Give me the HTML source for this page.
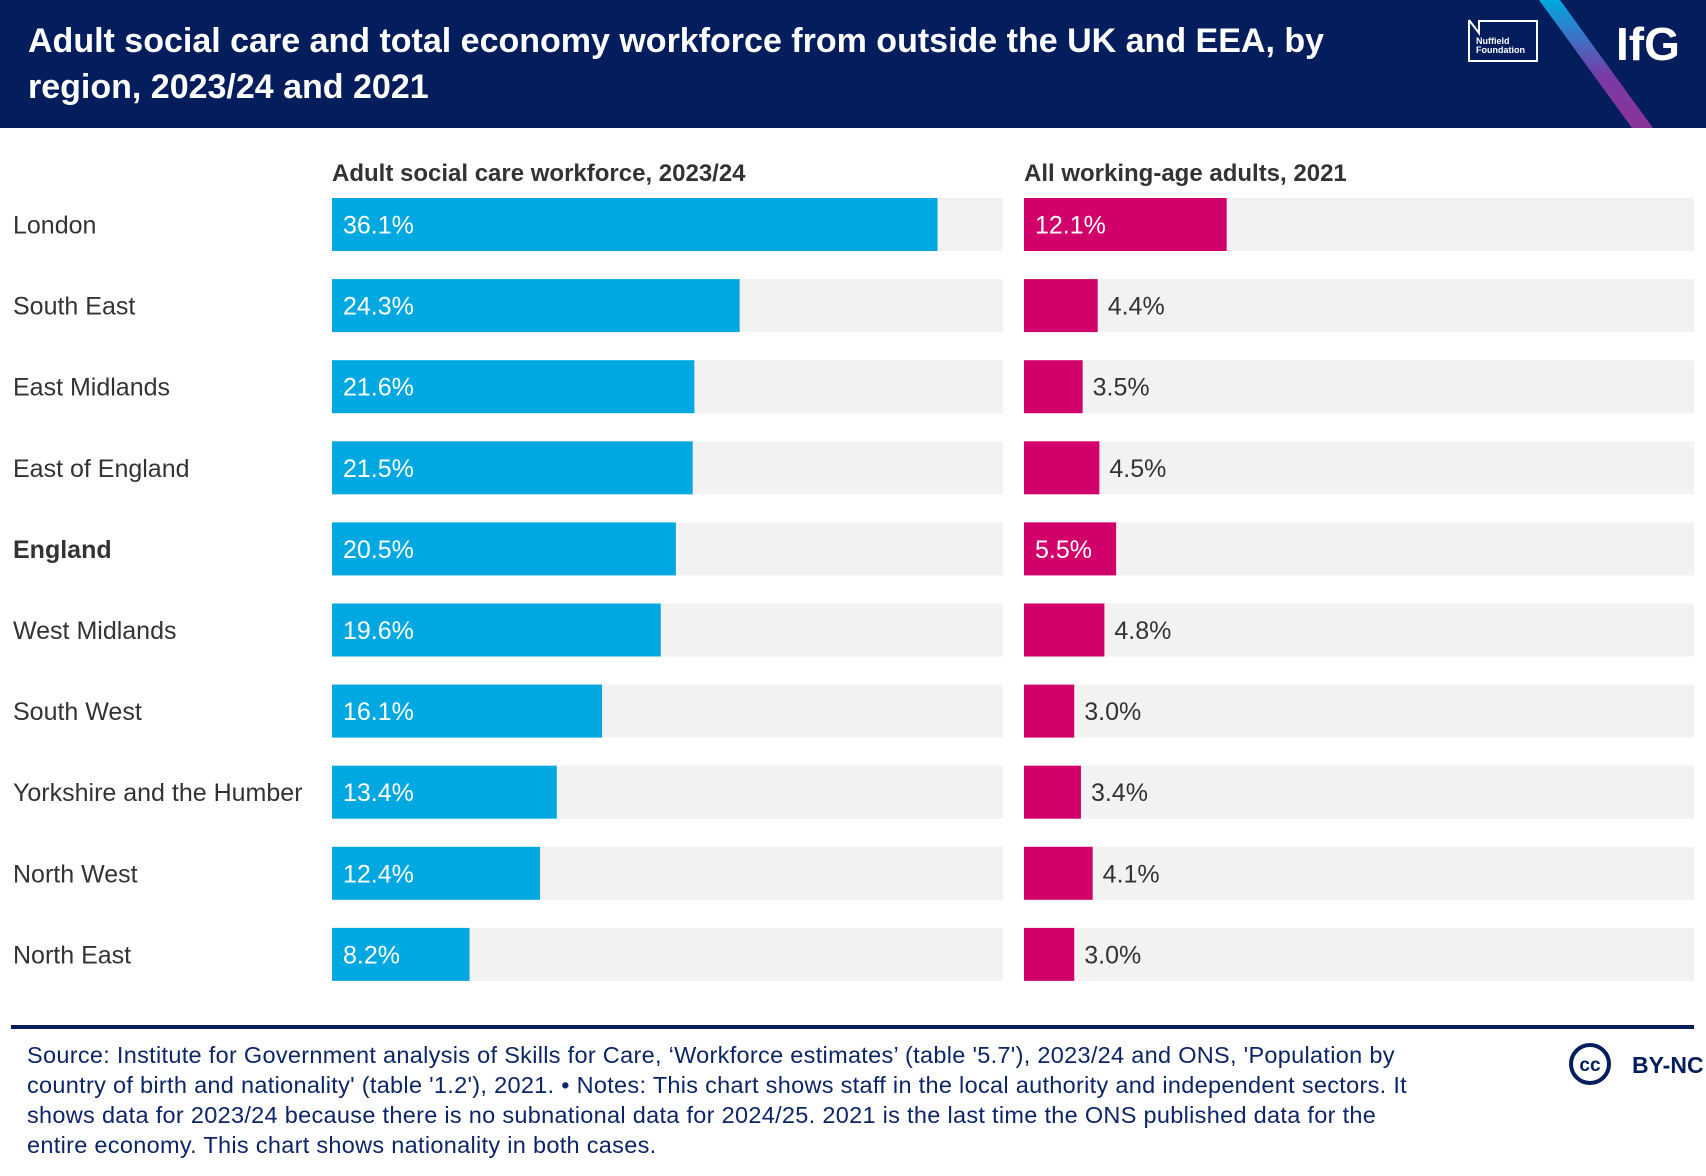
<!DOCTYPE html>
<html><head><meta charset="utf-8"><style>
body{margin:0;width:1706px;height:1176px;background:#fff;font-family:"Liberation Sans",sans-serif;overflow:hidden;position:relative}
#header{position:absolute;left:0;top:0;width:1706px;height:128px;background:#041e5d}
#title{position:absolute;left:28px;top:18px;color:#fff;font-weight:bold;font-size:34px;line-height:46px;width:1420px;white-space:nowrap}
.src{position:absolute;left:27px;top:1040px;width:1560px;color:#0b2566;font-size:23.5px;line-height:30px;white-space:nowrap;letter-spacing:0.3px}
</style></head><body>
<div id="header">
<div id="title">Adult social care and total economy workforce from outside the UK and EEA, by<br>region, 2023/24 and 2021</div>
<svg width="1706" height="128" style="position:absolute;left:0;top:0">
<defs><linearGradient id="g" x1="0" y1="0" x2="0" y2="1"><stop offset="0" stop-color="#00a9e0"/><stop offset="0.6" stop-color="#7a3aa6"/><stop offset="1" stop-color="#8a3399"/></linearGradient></defs>
<polygon points="1539,0 1560,0 1653,128 1632,128" fill="url(#g)"/>
<path d="M1469,20 L1469,61 L1537,61 L1537,21 L1479,21 L1479,33 L1469,20" fill="none" stroke="#fff" stroke-width="2"/>
<text x="1476" y="44" fill="#fff" font-size="9" font-weight="bold">Nuffield</text>
<text x="1476" y="53" fill="#fff" font-size="9" font-weight="bold">Foundation</text>
<text x="1616" y="60" fill="#fff" font-size="46" font-weight="bold">IfG</text>
</svg>
</div>
<svg id="chart" width="1706" height="1020" style="position:absolute;left:0;top:0"></svg>
<div style="position:absolute;left:11px;top:1025px;width:1683px;height:4px;background:#041e5d"></div>
<div class="src">Source: Institute for Government analysis of Skills for Care, ‘Workforce estimates’ (table '5.7'), 2023/24 and ONS, 'Population by<br>country of birth and nationality' (table '1.2'), 2021. • Notes: This chart shows staff in the local authority and independent sectors. It<br>shows data for 2023/24 because there is no subnational data for 2024/25. 2021 is the last time the ONS published data for the<br>entire economy. This chart shows nationality in both cases.</div>
<svg width="200" height="60" style="position:absolute;left:1560px;top:1035px">
<circle cx="30" cy="29" r="19" fill="none" stroke="#041e5d" stroke-width="4"/>
<text x="30" y="36" text-anchor="middle" fill="#041e5d" font-size="19" font-weight="bold">cc</text>
<text x="72" y="38" fill="#041e5d" font-size="23" font-weight="bold">BY-NC</text>
</svg>
<script>
const categories=["London","South East","East Midlands","East of England","England","West Midlands","South West","Yorkshire and the Humber","North West","North East"];
const careValues=[36.1,24.3,21.6,21.5,20.5,19.6,16.1,13.4,12.4,8.2];
const economyValues=[12.1,4.4,3.5,4.5,5.5,4.8,3.0,3.4,4.1,3.0];
const panelTitles=["Adult social care workforce, 2023/24","All working-age adults, 2021"];
const svg=document.getElementById('chart');
const NS="http://www.w3.org/2000/svg";
const maxV=40,top0=198,step=81.1,bh=53;
const panels=[{x:332,w:671,vals:careValues,col:"#00a8e1",thr:5,name:'care'},{x:1024,w:670,vals:economyValues,col:"#d1006a",thr:5,name:'economy'}];
function mk(t,a){const e=document.createElementNS(NS,t);for(const k in a)e.setAttribute(k,a[k]);svg.appendChild(e);return e;}
const sx=(p,v)=>v/maxV*p.w;
panels.forEach((p,pi)=>{
 const t=mk('text',{x:p.x,y:181,'font-size':24,'font-weight':'bold',fill:'#333'});t.textContent=panelTitles[pi];
 
 
});
categories.forEach((c,i)=>{
 const y=top0+i*step;
 const l=mk('text',{x:13,y:y+bh/2+9,'font-size':25,fill:'#333','font-weight':c==="England"?'bold':'normal'});l.textContent=c;
 
 
 panels.forEach(p=>{
  const tr=mk('rect',{x:p.x,y:y,width:p.w,height:bh,fill:'#f2f2f2'});
  
  
  const v=p.vals[i],w=sx(p,v);
  const b=mk('rect',{x:p.x,y:y,width:w,height:bh,fill:p.col});
  
  
  const inside=v>p.thr;
  const tx=mk('text',{x:inside?p.x+11:p.x+w+10,y:y+bh/2+9,'font-size':25,fill:inside?'#fff':'#333'});
  tx.textContent=v.toFixed(1)+'%';
  
  
 });
});
</script>
</body></html>
